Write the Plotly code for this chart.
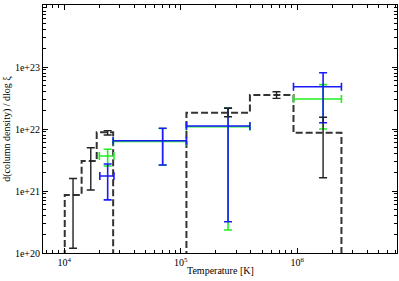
import plotly.graph_objects as go
import numpy as np

# ---- data ----
hist_edges = [1.01e4, 1.41e4, 1.9e4, 2.63e4, 1.12e5, 3.93e5, 9.3e5, 2.4e6]
hist_vals = [8.6e20, 3.05e21, 8.85e21, 1e18, 1.83e22, 3.53e22, 8.7e21]
hist_floor = 1e18

blk_x = [1.19e4, 1.69e4, 2.36e4, 2.55e5, 6.65e5, 1.67e6]
blk_y = [8.6e20, 3.05e21, 8.7e21, 1.83e22, 3.53e22, 8.7e21]
blk_hi = [1.59e21, 4.99e21, 9.4e21, 2.16e22, 3.98e22, 1.55e22]
blk_lo = [1.19e20, 1.04e21, 8.0e21, 1.58e22, 3.12e22, 1.64e21]

blu_x = [2.36e4, 7.0e4, 2.55e5, 1.67e6]
blu_y = [1.75e21, 6.45e21, 1.12e22, 4.81e22]
blu_hi = [2.72e21, 1.03e22, 2.16e22, 8.09e22]
blu_lo = [7.2e20, 2.62e21, 3.2e20, 1.26e22]
blu_xlo = [2.02e4, 2.63e4, 1.12e5, 9.3e5]
blu_xhi = [2.67e4, 1.12e5, 3.93e5, 2.4e6]

grn_x = [2.36e4, 7.0e4, 2.55e5, 1.67e6]
grn_y = [3.67e21, 6.3e21, 1.09e22, 3.05e22]
grn_hi = [4.71e21, 1.02e22, 2.2e22, 5.19e22]
grn_lo = [2.53e21, 2.6e21, 2.35e20, 1.0e22]
grn_xlo = [2.0e4, 2.63e4, 1.12e5, 9.3e5]
grn_xhi = [2.67e4, 1.12e5, 3.93e5, 2.4e6]

x_major = [1e4, 1e5, 1e6]
x_major_text = ["10<sup>4</sup>", "10<sup>5</sup>", "10<sup>6</sup>"]
y_major = [1e20, 1e21, 1e22, 1e23, 1e24]
y_major_text = ["1e+20", "1e+21", "1e+22", "1e+23", "1e+24"]
x_title = "Temperature [K]"
y_title = "d(column density) / dlog ξ"

# ---- build step path ----
sx, sy = [hist_edges[0]], [hist_floor]
for i, v in enumerate(hist_vals):
    sx += [hist_edges[i], hist_edges[i + 1]]
    sy += [v, v]
sx.append(hist_edges[-1])
sy.append(hist_floor)

def minus(a, b):
    return [float(x - y) for x, y in zip(a, b)]

fig = go.Figure()
fig.add_trace(go.Scatter(x=sx, y=sy, mode="lines",
                         line=dict(color="#333333", width=2, dash="7px,3px"),
                         showlegend=False, hoverinfo="skip"))

def errtrace(x, y, hi, lo, color, th, xlo=None, xhi=None):
    kw = dict(
        x=x, y=y, mode="markers",
        marker=dict(size=1, opacity=0, color=color),
        error_y=dict(type="data", symmetric=False, array=minus(hi, y),
                     arrayminus=minus(y, lo), color=color, thickness=th, width=4),
        showlegend=False,
    )
    if xlo is not None:
        kw["error_x"] = dict(type="data", symmetric=False, array=minus(xhi, x),
                             arrayminus=minus(x, xlo), color=color, thickness=th, width=4)
    return go.Scatter(**kw)

fig.add_trace(errtrace(grn_x, grn_y, grn_hi, grn_lo, "#22ee22", 1.6, grn_xlo, grn_xhi))
fig.add_trace(errtrace(blu_x, blu_y, blu_hi, blu_lo, "#1a1aff", 1.6, blu_xlo, blu_xhi))
fig.add_trace(errtrace(blk_x, blk_y, blk_hi, blk_lo, "#222222", 1.4))

x_minor = [float(m) * 10.0 ** e for e in range(3, 7) for m in range(2, 10)]
y_minor = [float(m) * 10.0 ** e for e in range(20, 24) for m in range(2, 10)]

font = dict(family="Liberation Serif, Times New Roman, serif", size=10, color="black")

fig.update_xaxes(type="log", range=[np.log10(6570), np.log10(7.2e6)],
                 showline=True, linecolor="black", linewidth=1, mirror="ticks",
                 ticks="inside", ticklen=5, tickcolor="black",
                 tickvals=x_major, ticktext=x_major_text, tickfont=font,
                 minor=dict(tickvals=x_minor, ticks="inside", ticklen=3, tickcolor="black", showgrid=False),
                 showgrid=False, zeroline=False, automargin=False)
fig.update_yaxes(type="log", range=[20, 24],
                 showline=True, linecolor="black", linewidth=1, mirror="ticks",
                 ticks="inside", ticklen=5, tickcolor="black",
                 tickvals=y_major, ticktext=y_major_text, tickfont=font,
                 minor=dict(tickvals=y_minor, ticks="inside", ticklen=3, tickcolor="black", showgrid=False),
                 showgrid=False, zeroline=False, automargin=False,
                 title=dict(text=y_title, font=font, standoff=2))

fig.add_annotation(text=x_title, xref="paper", yref="paper", x=0.5, y=-0.07,
                   xanchor="center", yanchor="middle", showarrow=False, font=font)

fig.update_layout(width=399, height=281, margin=dict(l=43, r=2, t=5, b=28),
                  plot_bgcolor="white", paper_bgcolor="white", font=font)
fig.write_html("out.html", config={"displayModeBar": False},
               post_script="document.body.style.margin='0px';")
